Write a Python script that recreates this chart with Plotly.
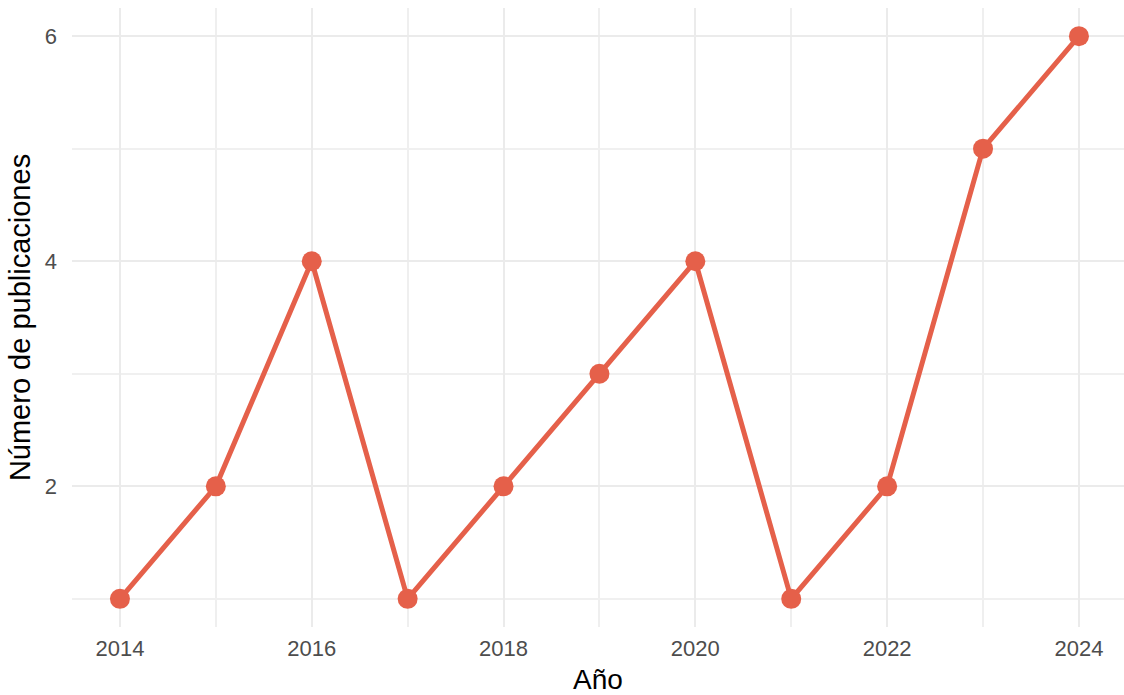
import plotly.graph_objects as go

years = [2014, 2015, 2016, 2017, 2018, 2019, 2020, 2021, 2022, 2023, 2024]
publicaciones = [1, 2, 4, 1, 2, 3, 4, 1, 2, 5, 6]
x_ticks = [2014, 2016, 2018, 2020, 2022, 2024]
x_minor = [2015, 2017, 2019, 2021, 2023]
y_ticks = [2, 4, 6]
y_minor = [1, 3, 5]

color = "#E5604A"
fig = go.Figure()
fig.add_trace(go.Scatter(
    x=years, y=publicaciones, mode="lines+markers",
    line=dict(color=color, width=5),
    marker=dict(color=color, size=20),
    showlegend=False,
))

font = "Liberation Sans, Arial, sans-serif"
fig.update_layout(
    width=1124, height=695,
    margin=dict(l=72, r=0, t=8, b=68),
    paper_bgcolor="white", plot_bgcolor="white",
    font=dict(family=font, color="#4D4D4D", size=22),
    xaxis=dict(
        range=[2013.5, 2024.47], tickvals=x_ticks, ticktext=[str(v) for v in x_ticks],
        showgrid=True, gridcolor="#EBEBEB", gridwidth=2, zeroline=False, showline=False,
        ticks="", ticklabelstandoff=6,
        minor=dict(tickvals=x_minor, showgrid=True, gridcolor="#EFEFEF", gridwidth=1.6),
        title=dict(text="Año", font=dict(size=28, color="black", family=font), standoff=11),
        tickfont=dict(size=22, color="#4D4D4D"),
    ),
    yaxis=dict(
        range=[0.75, 6.25], tickvals=y_ticks, ticktext=[str(v) for v in y_ticks],
        showgrid=True, gridcolor="#EBEBEB", gridwidth=2, zeroline=False, showline=False,
        ticks="", ticklabelstandoff=14,
        minor=dict(tickvals=y_minor, showgrid=True, gridcolor="#F0F0F0", gridwidth=1.6),
        title=dict(text="Número de publicaciones", font=dict(size=29, color="black", family=font), standoff=5),
        tickfont=dict(size=22, color="#4D4D4D"),
    ),
)
fig.write_html("out.html", config={"displayModeBar": False},
               post_script="document.body.style.margin='0';")
